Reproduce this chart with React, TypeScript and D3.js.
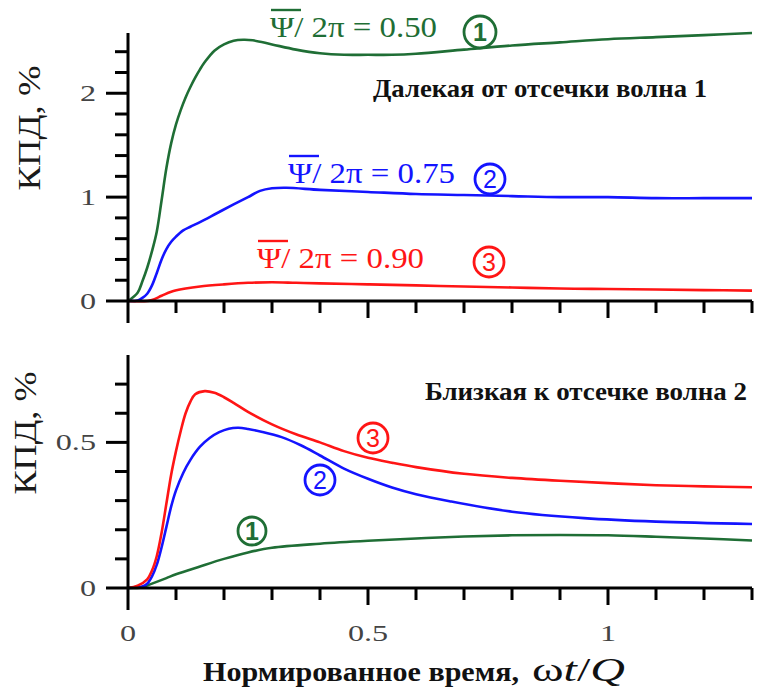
import React from "react";
import * as d3 from "d3";

// ---------- DATA ----------
// Top panel: "Далекая от отсечки волна 1"
const topX1 = [0, 0.02, 0.03, 0.04, 0.05, 0.06, 0.07, 0.08, 0.09, 0.1, 0.11, 0.12, 0.13, 0.14, 0.15, 0.16, 0.18, 0.2, 0.22, 0.24, 0.26, 0.3, 0.35, 0.4, 0.45, 0.5, 0.55, 0.6, 0.7, 0.8, 0.9, 1.0, 1.1, 1.2, 1.3];
const topY1 = [0, 0.08, 0.19, 0.32, 0.48, 0.67, 0.97, 1.28, 1.52, 1.7, 1.84, 1.96, 2.06, 2.15, 2.23, 2.3, 2.41, 2.47, 2.505, 2.515, 2.51, 2.47, 2.42, 2.385, 2.37, 2.37, 2.37, 2.38, 2.42, 2.46, 2.49, 2.52, 2.54, 2.56, 2.58];

const topX2 = [0, 0.02, 0.03, 0.04, 0.05, 0.06, 0.07, 0.08, 0.09, 0.1, 0.115, 0.13, 0.15, 0.185, 0.22, 0.25, 0.275, 0.3, 0.33, 0.4, 0.5, 0.6, 0.7, 0.8, 0.9, 1.0, 1.1, 1.2, 1.3];
const topY2 = [0, 0.005, 0.03, 0.07, 0.15, 0.27, 0.4, 0.5, 0.57, 0.62, 0.68, 0.715, 0.76, 0.845, 0.93, 1.0, 1.06, 1.085, 1.09, 1.07, 1.05, 1.03, 1.02, 1.01, 1.0, 1.0, 0.99, 0.99, 0.99];

const topX3 = [0, 0.04, 0.05, 0.07, 0.09, 0.12, 0.15, 0.2, 0.25, 0.3, 0.35, 0.4, 0.5, 0.6, 0.7, 0.8, 0.9, 1.0, 1.1, 1.2, 1.3];
const topY3 = [0, 0.0, 0.01, 0.05, 0.09, 0.12, 0.14, 0.16, 0.175, 0.18, 0.175, 0.17, 0.16, 0.15, 0.14, 0.13, 0.12, 0.115, 0.11, 0.105, 0.1];

// Bottom panel: "Близкая к отсечке волна 2"
const botX1 = [0, 0.03, 0.05, 0.08, 0.1, 0.15, 0.2, 0.25, 0.3, 0.4, 0.5, 0.6, 0.7, 0.8, 0.9, 1.0, 1.1, 1.2, 1.3];
const botY1 = [0, 0.003, 0.015, 0.034, 0.047, 0.074, 0.1, 0.122, 0.138, 0.152, 0.162, 0.17, 0.177, 0.181, 0.182, 0.181, 0.176, 0.17, 0.163];

const botX2 = [0, 0.03, 0.04, 0.05, 0.06, 0.07, 0.08, 0.09, 0.1, 0.115, 0.13, 0.15, 0.17, 0.19, 0.21, 0.23, 0.25, 0.28, 0.32, 0.36, 0.4, 0.45, 0.5, 0.55, 0.6, 0.67, 0.8, 0.95, 1.1, 1.3];
const botY2 = [0, 0.005, 0.015, 0.04, 0.08, 0.14, 0.21, 0.28, 0.335, 0.395, 0.44, 0.485, 0.515, 0.535, 0.547, 0.55, 0.546, 0.536, 0.518, 0.49, 0.455, 0.41, 0.375, 0.345, 0.322, 0.298, 0.262, 0.24, 0.228, 0.22];

const botX3 = [0, 0.02, 0.04, 0.05, 0.06, 0.07, 0.08, 0.09, 0.1, 0.11, 0.12, 0.13, 0.14, 0.16, 0.18, 0.2, 0.22, 0.25, 0.3, 0.35, 0.4, 0.45, 0.5, 0.55, 0.6, 0.7, 0.8, 0.9, 1.0, 1.1, 1.2, 1.3];
const botY3 = [0, 0.008, 0.03, 0.06, 0.11, 0.19, 0.29, 0.39, 0.47, 0.54, 0.6, 0.64, 0.665, 0.676, 0.67, 0.655, 0.636, 0.605, 0.562, 0.528, 0.5, 0.47, 0.447, 0.43, 0.415, 0.392, 0.378, 0.368, 0.36, 0.353, 0.349, 0.346];

const xTickLabels = ["0", "0.5", "1"];
const xTickLabelValues = [0, 0.5, 1];
const topYTickLabels = ["0", "1", "2"];
const topYTickLabelValues = [0, 1, 2];
const botYTickLabels = ["0", "0.5"];
const botYTickLabelValues = [0, 0.5];

const psiValues = ["0.50", "0.75", "0.90"];
const seriesNumbers = ["1", "2", "3"];

const GREEN = "#1f6e35";
const BLUE = "#1414ff";
const RED = "#ff1515";
const colors = [GREEN, BLUE, RED];

const W = 757;
const H = 692;

const SERIF = '"Liberation Serif", "Times New Roman", Tinos, "DejaVu Serif", serif';
const SANS = '"Liberation Sans", Arial, sans-serif';

function zip(xs: number[], ys: number[]): [number, number][] {
  return xs.map((x, i) => [x, ys[i]]);
}

const x = d3.scaleLinear().domain([0, 1.3]).range([128, 752]);
const yTop = d3.scaleLinear().domain([0, 2.58]).range([301, 33]);
const yBot = d3.scaleLinear().domain([0, 0.8]).range([588, 355]);

const STRETCH = 1.4;

function Panel({
  y,
  series,
  minorStep,
  yMax,
  labels,
  labelValues,
  showXLabels,
}: {
  y: d3.ScaleLinear<number, number>;
  series: [number, number][][];
  minorStep: number;
  yMax: number;
  labels: string[];
  labelValues: number[];
  showXLabels: boolean;
}) {
  const line = d3
    .line<[number, number]>()
    .x((d) => x(d[0]))
    .y((d) => y(d[1]))
    .curve(d3.curveCatmullRom.alpha(0.5));
  const y0 = y(0);
  const x0 = x(0);
  const yTicks = d3.range(minorStep, yMax + 1e-9, minorStep);
  const xTicks = d3.range(0.1, 1.3001, 0.1);
  const isMajorY = (v: number) => labelValues.some((l) => Math.abs(l - v) < 1e-6);
  const isMajorX = (v: number) => Math.abs(v - 0.5) < 1e-6 || Math.abs(v - 1) < 1e-6;
  return (
    <g>
      {series.map((s, i) => (
        <path key={i} d={line(s) || ""} fill="none" stroke={colors[i]} strokeWidth={2.6} strokeLinejoin="round" />
      ))}
      <line x1={x0} x2={x0} y1={y.range()[1]} y2={y0 + 22} stroke="#000" strokeWidth={3} />
      <line x1={x0 - 22} x2={x(1.3)} y1={y0} y2={y0} stroke="#000" strokeWidth={3} />
      {yTicks.map((v, i) => (
        <line key={i} x1={x0 - (isMajorY(v) ? 22 : 13)} x2={x0} y1={y(v)} y2={y(v)} stroke="#000" strokeWidth={3} />
      ))}
      {xTicks.map((v, i) => (
        <line key={i} x1={x(v)} x2={x(v)} y1={y0} y2={y0 + (isMajorX(v) ? 17 : 12)} stroke="#000" strokeWidth={3} />
      ))}
      {labels.map((t, i) => (
        <text
          key={i}
          transform={`translate(96,${y(labelValues[i])}) scale(${STRETCH},1)`}
          dy="0.35em"
          textAnchor="end"
          style={{ fontFamily: SERIF }}
          fontSize={23}
          fill="#444"
        >
          {t}
        </text>
      ))}
      {showXLabels &&
        xTickLabels.map((t, i) => (
          <text
            key={i}
            transform={`translate(${x(xTickLabelValues[i])},${y0 + 45}) scale(${STRETCH},1)`}
            dy="0.35em"
            textAnchor="middle"
            style={{ fontFamily: SERIF }}
            fontSize={23}
            fill="#444"
          >
            {t}
          </text>
        ))}
    </g>
  );
}

function Circled({ cx, cy, n, color, r = 15 }: { cx: number; cy: number; n: string; color: string; r?: number }) {
  return (
    <g>
      <circle cx={cx} cy={cy} r={r} fill="none" stroke={color} strokeWidth={2.8} />
      <text x={cx} y={cy} dy="0.36em" textAnchor="middle" style={{ fontFamily: SANS }} fontSize={25} fill={color} fontWeight={n === "1" ? 700 : 400}>
        {n}
      </text>
    </g>
  );
}

function PsiLabel({ x0, y0, value, color }: { x0: number; y0: number; value: string; color: string }) {
  return (
    <g>
      <line x1={x0 + 1} x2={x0 + 31} y1={y0 - 27} y2={y0 - 27} stroke={color} strokeWidth={2.4} />
      <text x={x0} y={y0} style={{ fontFamily: SERIF }} fontSize={29} fill={color} textLength={167} lengthAdjust="spacingAndGlyphs">
        {"Ψ/ 2π = " + value}
      </text>
    </g>
  );
}

export default function App() {
  const topSeries = [zip(topX1, topY1), zip(topX2, topY2), zip(topX3, topY3)];
  const botSeries = [zip(botX1, botY1), zip(botX2, botY2), zip(botX3, botY3)];
  return (
    <svg width={W} height={H} style={{ position: "absolute", left: 0, top: 0, background: "#fff" }}>
      <rect width={W} height={H} fill="#fff" />
      <Panel y={yTop} series={topSeries} minorStep={0.2} yMax={2.4} labels={topYTickLabels} labelValues={topYTickLabelValues} showXLabels={false} />
      <Panel y={yBot} series={botSeries} minorStep={0.1} yMax={0.7} labels={botYTickLabels} labelValues={botYTickLabelValues} showXLabels={true} />

      <text transform="translate(40,128) rotate(-90)" textAnchor="middle" style={{ fontFamily: SERIF }} fontSize={31} fill="#1a1a1a" textLength={125} lengthAdjust="spacingAndGlyphs">
        КПД,  %
      </text>
      <text transform="translate(36,433) rotate(-90)" textAnchor="middle" style={{ fontFamily: SERIF }} fontSize={31} fill="#1a1a1a" textLength={123} lengthAdjust="spacingAndGlyphs">
        КПД,  %
      </text>

      <text x={373} y={97} style={{ fontFamily: SERIF }} fontWeight={700} fontSize={25} fill="#111" textLength={334} lengthAdjust="spacingAndGlyphs">
        Далекая от отсечки волна 1
      </text>
      <text x={425} y={400} style={{ fontFamily: SERIF }} fontWeight={700} fontSize={25} fill="#111" textLength={322} lengthAdjust="spacingAndGlyphs">
        Близкая к отсечке волна 2
      </text>

      <PsiLabel x0={270} y0={37} value={psiValues[0]} color={GREEN} />
      <PsiLabel x0={288} y0={183} value={psiValues[1]} color={BLUE} />
      <PsiLabel x0={257} y0={268} value={psiValues[2]} color={RED} />
      <Circled cx={480} cy={32} n={seriesNumbers[0]} color={GREEN} r={16} />
      <Circled cx={490} cy={179} n={seriesNumbers[1]} color={BLUE} />
      <Circled cx={489} cy={262} n={seriesNumbers[2]} color={RED} />

      <Circled cx={373} cy={438} n={seriesNumbers[2]} color={RED} />
      <Circled cx={320} cy={480} n={seriesNumbers[1]} color={BLUE} />
      <Circled cx={252} cy={531} n={seriesNumbers[0]} color={GREEN} r={14} />

      <text x={203} y={681} style={{ fontFamily: SERIF }} fontWeight={700} fontSize={27} fill="#111" textLength={316} lengthAdjust="spacingAndGlyphs">
        Нормированное время,
      </text>
      <text x={532} y={681} style={{ fontFamily: SERIF }} fontSize={33} fill="#111" textLength={93} lengthAdjust="spacingAndGlyphs">
        ω<tspan fontStyle="italic">t</tspan>/<tspan fontStyle="italic">Q</tspan>
      </text>
    </svg>
  );
}
